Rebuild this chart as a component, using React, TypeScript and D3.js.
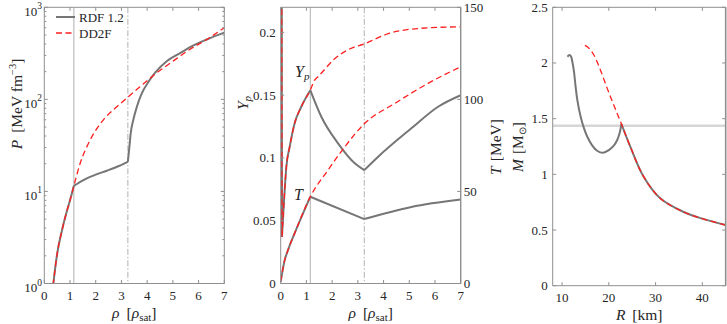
import React from 'react';
import * as d3 from 'd3';

// ---------- DATA ----------
// Panel 1: pressure vs density
const RHO_P_RDF = [0.3, 0.4, 0.5, 0.68, 0.87, 1.0, 1.15, 1.52, 2.0, 2.43, 2.9, 3.25, 3.31, 3.36, 3.46, 3.6, 3.79, 4.05, 4.31, 4.76, 5.28, 5.8, 6.32, 7.0];
const P_RDF = [0.75, 1.3, 2.1, 3.7, 6.0, 8.0, 11.5, 13.3, 15.2, 16.8, 18.9, 21, 30.6, 42.8, 59.7, 83, 116, 155, 195, 260, 318, 385, 447, 530];
const RHO_P_DD2F = [0.3, 0.4, 0.5, 0.68, 0.87, 1.0, 1.15, 1.39, 1.78, 2.3, 2.82, 3.27, 3.72, 4.31, 5.02, 5.67, 6.32, 7.0];
const P_DD2F = [0.75, 1.3, 2.1, 3.7, 6.0, 8.0, 11.5, 20, 36, 60, 83, 107, 137, 188, 262, 350, 447, 600];

// Panel 2: proton fraction and temperature vs density
const RHO_YP_RDF = [0.03, 0.05, 0.13, 0.22, 0.35, 0.54, 0.8, 1.15, 1.58, 2.23, 2.88, 3.25, 3.79, 5.08, 6.12, 7.0];
const YP_RDF = [0.4, 0.037, 0.066, 0.093, 0.109, 0.1275, 0.1408, 0.154, 0.1328, 0.1116, 0.0957, 0.0903, 0.101, 0.1236, 0.1408, 0.15];
const RHO_YP_DD2F = [0.03, 0.05, 0.13, 0.22, 0.35, 0.54, 0.8, 1.15, 1.32, 1.45, 2.1, 2.7, 3.27, 4.18, 5.47, 7.0];
const YP_DD2F = [0.4, 0.037, 0.066, 0.093, 0.109, 0.1275, 0.1408, 0.154, 0.162, 0.1647, 0.179, 0.187, 0.191, 0.199, 0.2033, 0.2045];
const RHO_T_RDF = [0, 0.155, 0.28, 0.54, 1.15, 3.25, 5.08, 7.0];
const T_RDF = [1, 12.7, 18, 27.2, 47.1, 35, 41.6, 45.6];
const RHO_T_DD2F = [0, 0.155, 0.28, 0.54, 1.15, 1.84, 2.49, 3.27, 4.44, 5.73, 7.0];
const T_DD2F = [1, 12.7, 18, 27.2, 47.1, 61.6, 74.2, 87, 97.8, 108.7, 117.7];

// Panel 3: mass-radius
const R_RDF = [45, 40, 36, 31.0, 27.45, 24.6, 22.7, 22.3, 21.8, 21.06, 20.0, 18.8, 17.5, 16.4, 15.4, 14.7, 13.98, 13.27, 12.9, 12.56, 12.2, 11.9, 11.6, 11.15];
const M_RDF = [0.545, 0.602, 0.662, 0.785, 0.979, 1.248, 1.452, 1.368, 1.308, 1.257, 1.218, 1.194, 1.212, 1.263, 1.338, 1.413, 1.518, 1.667, 1.787, 1.92, 2.011, 2.06, 2.072, 2.056];
const R_DD2F = [45, 40, 36, 31.0, 27.45, 24.6, 22.7, 21.06, 19.66, 18.2, 16.8, 15.4, 14.1];
const M_DD2F = [0.545, 0.602, 0.662, 0.785, 0.979, 1.248, 1.452, 1.622, 1.772, 1.937, 2.072, 2.146, 2.17];
const M_REF = 1.437;

const RHO_KINK_1 = 1.15;
const RHO_KINK_2 = 3.25;

const RHO_TICKS = [0, 1, 2, 3, 4, 5, 6, 7];
const P_TICKS = [1, 10, 100, 1000];
const YP_TICKS = [0, 0.05, 0.1, 0.15, 0.2];
const YP_LABELS = ['0', '0.05', '0.1', '0.15', '0.2'];
const T_TICKS = [0, 50, 100, 150];
const R_TICKS = [10, 20, 30, 40];
const M_TICKS = [0, 0.5, 1, 1.5, 2, 2.5];
const M_LABELS = ['0', '0.5', '1', '1.5', '2', '2.5'];

// ---------- STYLE ----------
const GRAY = '#767676';
const RED = '#ff1f1f';
const AXIS = '#8f8f8f';
const REF = '#b0b0b0';
const TXT = '#262626';
const FONT = 'Liberation Serif';
const DASH = '6,3.5';

const P1 = { left: 44.3, right: 224.3, top: 7.3, bottom: 283.5 };
const P2 = { left: 280.7, right: 460.7, top: 7.3, bottom: 283.5 };
const P3 = { left: 552.7, right: 725.7, top: 7.3, bottom: 285.7 };

function splitAt(xs: number[], ys: number[], breaks: number[]) {
  const out: [number, number][][] = [];
  let cur: [number, number][] = [];
  xs.forEach((x, i) => {
    cur.push([x, ys[i]]);
    if (breaks.includes(x) && cur.length > 1 && i < xs.length - 1) {
      out.push(cur);
      cur = [[x, ys[i]]];
    }
  });
  out.push(cur);
  return out;
}

function Box({ p, rightW = 1 }: any) {
  return (
    <g fill="none" stroke={AXIS}>
      <line x1={p.left} x2={p.right} y1={p.bottom} y2={p.bottom} strokeWidth={1} />
      <line x1={p.left} x2={p.right} y1={p.top} y2={p.top} strokeWidth={1} />
      <line x1={p.left} x2={p.left} y1={p.top} y2={p.bottom} strokeWidth={1} />
      <line x1={p.right} x2={p.right} y1={p.top} y2={p.bottom} strokeWidth={rightW} />
    </g>
  );
}

function XTicks({ p, scale, ticks, labelY }: any) {
  return (
    <g>
      {ticks.map((t: number) => (
        <g key={t}>
          <line x1={scale(t)} x2={scale(t)} y1={p.bottom} y2={p.bottom - 3.5} stroke={AXIS} />
          <line x1={scale(t)} x2={scale(t)} y1={p.top} y2={p.top + 3.5} stroke={AXIS} />
          <text x={scale(t)} y={labelY} textAnchor="middle" fontSize={13} fill={TXT}>{t}</text>
        </g>
      ))}
    </g>
  );
}

function YTicks({ p, scale, ticks, labels, side, both }: any) {
  return (
    <g>
      {ticks.map((t: number, i: number) => {
        const y = scale(t);
        const x0 = side === 'left' ? p.left : p.right;
        const dir = side === 'left' ? 1 : -1;
        return (
          <g key={t}>
            <line x1={x0} x2={x0 + dir * 3.5} y1={y} y2={y} stroke={AXIS} />
            {both && <line x1={p.right} x2={p.right - 3.5} y1={y} y2={y} stroke={AXIS} />}
            <text
              x={side === 'left' ? p.left - 5 : p.right + 3}
              y={y + 4.5}
              textAnchor={side === 'left' ? 'end' : 'start'}
              fontSize={13}
              fill={TXT}
            >
              {labels ? labels[i] : t}
            </text>
          </g>
        );
      })}
    </g>
  );
}

export default function App() {
  const x1 = d3.scaleLinear().domain([0, 7]).range([P1.left, P1.right]);
  const y1 = d3.scaleLog().domain([1, 1000]).range([P1.bottom, P1.top]);
  const x2 = d3.scaleLinear().domain([0, 7]).range([P2.left, P2.right]);
  const yYp = d3.scaleLinear().domain([0, 0.22]).range([P2.bottom, P2.top]);
  const yT = d3.scaleLinear().domain([0, 150]).range([P2.bottom, P2.top]);
  const x3 = d3.scaleLinear().domain([8, 45]).range([P3.left, P3.right]);
  const yM = d3.scaleLinear().domain([0, 2.5]).range([P3.bottom, P3.top]);

  const lineP = d3.line<[number, number]>().x(d => x1(d[0])).y(d => y1(d[1])).curve(d3.curveMonotoneX);
  const lineYp = d3.line<[number, number]>().x(d => x2(d[0])).y(d => yYp(d[1])).curve(d3.curveMonotoneX);
  const lineT = d3.line<[number, number]>().x(d => x2(d[0])).y(d => yT(d[1])).curve(d3.curveMonotoneX);
  const lineM = d3.line<[number, number]>().x(d => x3(d[0])).y(d => yM(d[1])).curve(d3.curveCatmullRom.alpha(0.5));

  const minorP: number[] = [];
  [1, 10, 100].forEach(d => { for (let k = 2; k <= 9; k++) minorP.push(k * d); });

  const refLines = (x: any, p: any) => (
    <g>
      <line x1={x(RHO_KINK_1)} x2={x(RHO_KINK_1)} y1={p.top} y2={p.bottom} stroke={REF} strokeWidth={1} />
      <line x1={x(RHO_KINK_2)} x2={x(RHO_KINK_2)} y1={p.top} y2={p.bottom} stroke={REF} strokeWidth={1} strokeDasharray="6,2,1.5,2" />
    </g>
  );

  const rhoLabel = (cx: number) => (
    <text x={cx} y={318} textAnchor="middle" fontSize={15.5} fill={TXT}>
      <tspan fontStyle="italic">ρ</tspan>
      <tspan dx={7}>[</tspan>
      <tspan fontStyle="italic">ρ</tspan>
      <tspan fontSize={11} dy={3}>sat</tspan>
      <tspan dy={-3}>]</tspan>
    </text>
  );

  return (
    <svg width={727} height={324} style={{ position: 'absolute', left: 0, top: 0, background: '#fff', fontFamily: FONT }}>
      <defs>
        <clipPath id="c1"><rect x={P1.left} y={P1.top} width={P1.right - P1.left} height={P1.bottom - P1.top} /></clipPath>
        <clipPath id="c2"><rect x={P2.left} y={P2.top} width={P2.right - P2.left} height={P2.bottom - P2.top} /></clipPath>
        <clipPath id="c3"><rect x={P3.left} y={P3.top} width={P3.right - P3.left} height={P3.bottom - P3.top} /></clipPath>
      </defs>
      <rect x={0} y={0} width={727} height={324} fill="#fff" />

      {/* ---------- Panel 1 ---------- */}
      <g clipPath="url(#c1)">
        {refLines(x1, P1)}
        {splitAt(RHO_P_RDF, P_RDF, [RHO_KINK_1, RHO_KINK_2]).map((seg, i) => (
          <path key={i} d={lineP(seg) || ''} fill="none" stroke={GRAY} strokeWidth={2} />
        ))}
        <path d={lineP(RHO_P_DD2F.map((r, i) => [r, P_DD2F[i]] as [number, number])) || ''} fill="none" stroke={RED} strokeWidth={1.3} strokeDasharray={DASH} />
      </g>
      <Box p={P1} />
      <XTicks p={P1} scale={x1} ticks={RHO_TICKS} labelY={299.5} />
      {minorP.map(v => (
        <g key={v}>
          <line x1={P1.left} x2={P1.left + 2} y1={y1(v)} y2={y1(v)} stroke={AXIS} />
          <line x1={P1.right} x2={P1.right - 2} y1={y1(v)} y2={y1(v)} stroke={AXIS} />
        </g>
      ))}
      {P_TICKS.map((t, i) => (
        <g key={t}>
          <line x1={P1.left} x2={P1.left + 3.5} y1={y1(t)} y2={y1(t)} stroke={AXIS} />
          <line x1={P1.right} x2={P1.right - 3.5} y1={y1(t)} y2={y1(t)} stroke={AXIS} />
          <text x={42} y={y1(t) + 8.5} textAnchor="end" fontSize={13} fill={TXT}>
            10<tspan fontSize={9.5} dy={-6.5}>{i}</tspan>
          </text>
        </g>
      ))}
      {/* legend */}
      <line x1={56} x2={75} y1={17} y2={17} stroke={GRAY} strokeWidth={2} />
      <text x={79} y={22} fontSize={13} fill={TXT}>RDF 1.2</text>
      <line x1={56} x2={75} y1={33} y2={33} stroke={RED} strokeWidth={1.3} strokeDasharray={DASH} />
      <text x={79} y={38} fontSize={13} fill={TXT}>DD2F</text>
      {/* axis labels */}
      <text transform="translate(22,104) rotate(-90)" textAnchor="middle" fontSize={15.5} fill={TXT}>
        <tspan fontStyle="italic">P</tspan>
        <tspan dx={7}>[MeV fm</tspan>
        <tspan dy={-6} fontSize={10.5}>−3</tspan>
        <tspan dy={6}>]</tspan>
      </text>
      {rhoLabel((P1.left + P1.right) / 2)}

      {/* ---------- Panel 2 ---------- */}
      <g clipPath="url(#c2)">
        {refLines(x2, P2)}
        {splitAt(RHO_YP_RDF, YP_RDF, [0.05, RHO_KINK_1, RHO_KINK_2]).map((seg, i) => (
          <path key={'y' + i} d={lineYp(seg) || ''} fill="none" stroke={GRAY} strokeWidth={2} />
        ))}
        {splitAt(RHO_T_RDF, T_RDF, [RHO_KINK_1, RHO_KINK_2]).map((seg, i) => (
          <path key={'t' + i} d={lineT(seg) || ''} fill="none" stroke={GRAY} strokeWidth={2} />
        ))}
        {splitAt(RHO_YP_DD2F, YP_DD2F, [0.05]).map((seg, i) => (
          <path key={'yd' + i} d={lineYp(seg) || ''} fill="none" stroke={RED} strokeWidth={1.3} strokeDasharray={DASH} />
        ))}
        <path d={lineT(RHO_T_DD2F.map((r, i) => [r, T_DD2F[i]] as [number, number])) || ''} fill="none" stroke={RED} strokeWidth={1.3} strokeDasharray={DASH} />
      </g>
      <Box p={P2} rightW={1.4} />
      <XTicks p={P2} scale={x2} ticks={RHO_TICKS} labelY={299.5} />
      <YTicks p={P2} scale={yYp} ticks={YP_TICKS} labels={YP_LABELS} side="left" />
      <YTicks p={P2} scale={yT} ticks={T_TICKS} side="right" />
      <text x={295} y={77} fontSize={16} fill={TXT} fontStyle="italic">
        Y<tspan fontSize={11} dy={3}>p</tspan>
      </text>
      <text x={294} y={200} fontSize={16} fill={TXT} fontStyle="italic">T</text>
      <text transform="translate(248,103) rotate(-90)" textAnchor="middle" fontSize={15.5} fill={TXT} fontStyle="italic">
        Y<tspan fontSize={11} dy={3}>p</tspan>
      </text>
      <text transform="translate(501,147) rotate(-90)" textAnchor="middle" fontSize={15.5} fill={TXT}>
        <tspan fontStyle="italic">T</tspan>
        <tspan dx={5}>[MeV]</tspan>
      </text>
      {rhoLabel((P2.left + P2.right) / 2)}

      {/* ---------- Panel 3 ---------- */}
      <g clipPath="url(#c3)">
        <line x1={P3.left} x2={P3.right} y1={yM(M_REF)} y2={yM(M_REF)} stroke="#d6d6d6" strokeWidth={2.5} />
        {splitAt(R_RDF, M_RDF, [22.7]).map((seg, i) => (
          <path key={i} d={lineM(seg) || ''} fill="none" stroke={GRAY} strokeWidth={2} />
        ))}
        <path d={lineM(R_DD2F.map((r, i) => [r, M_DD2F[i]] as [number, number])) || ''} fill="none" stroke={RED} strokeWidth={1.3} strokeDasharray={DASH} />
      </g>
      <Box p={P3} rightW={1.6} />
      <XTicks p={P3} scale={x3} ticks={R_TICKS} labelY={301.5} />
      <YTicks p={P3} scale={yM} ticks={M_TICKS} labels={M_LABELS} side="left" both />
      <text transform="translate(523,147) rotate(-90)" textAnchor="middle" fontSize={15.5} fill={TXT}>
        <tspan fontStyle="italic">M</tspan>
        <tspan dx={5}>[M</tspan>
        <tspan fontSize={10} dy={3}>⊙</tspan>
        <tspan dy={-3}>]</tspan>
      </text>
      <text x={(P3.left + P3.right) / 2} y={320} textAnchor="middle" fontSize={15.5} fill={TXT}>
        <tspan fontStyle="italic">R</tspan>
        <tspan dx={7}>[km]</tspan>
      </text>
    </svg>
  );
}
